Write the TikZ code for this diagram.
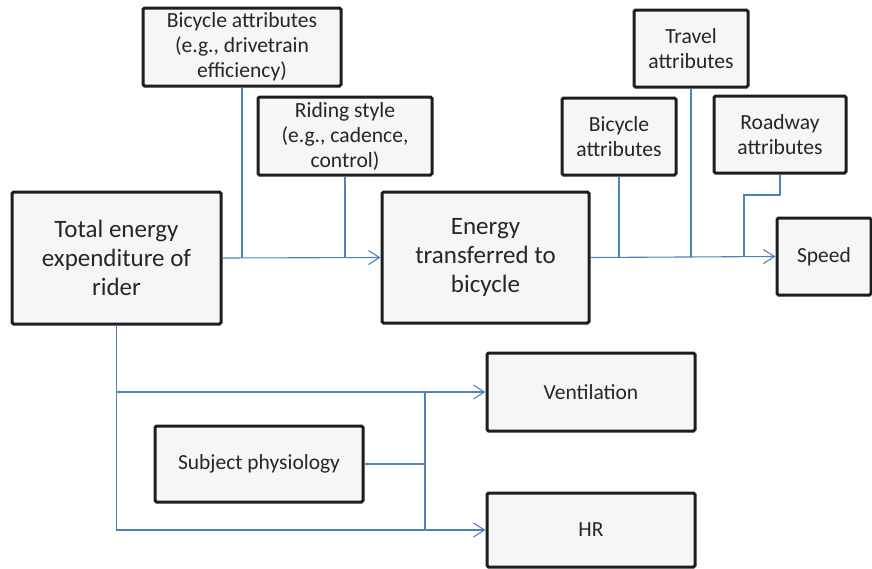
\documentclass[tikz,border=0pt]{standalone}
\usepackage{fontspec}
\setmainfont{Carlito}
\usetikzlibrary{arrows.meta}
\definecolor{boxfill}{HTML}{F6F6F6}
\definecolor{boxline}{HTML}{1E1E1E}
\definecolor{conn}{HTML}{4F81BD}
\tikzset{
  box/.style={draw=boxline, line width=3pt, fill=boxfill, rounded corners=1.5pt,
    align=center, inner sep=0pt, text=black!85},
  smallfont/.style={font=\fontsize{21.6}{25}\selectfont},
  midfont/.style={font=\fontsize{21.5}{26}\selectfont},
  bigfont/.style={font=\fontsize{25}{29}\selectfont},
  conline/.style={draw=conn, line width=1.1pt},
  arr/.style={conline, -{Straight Barb[length=11pt,width=14pt,line width=1.1pt]}}
}
\begin{document}
\begin{tikzpicture}[x=1pt,y=-1pt]
\useasboundingbox (0,0) rectangle (872,568);
% nodes: center (x,y), width, height
\node[box,bigfont,minimum width=209pt,minimum height=132pt] (total) at (116.5,258) {Total energy\\expenditure of\\rider};
\node[box,bigfont,minimum width=207pt,minimum height=131pt] (energy) at (485.5,257.5) {Energy\\transferred to\\bicycle};
\node[box,smallfont,minimum width=198pt,minimum height=78pt] (ba1) at (242,47) {Bicycle attributes\\(e.g., drivetrain\\efficiency)};
\node[box,smallfont,minimum width=174pt,minimum height=78pt] (rs) at (345,136) {Riding style\\(e.g., cadence,\\control)};
\node[box,smallfont,minimum width=114pt,minimum height=77pt] (ba2) at (619,136.5) {Bicycle\\attributes};
\node[box,smallfont,minimum width=114pt,minimum height=77pt] (ta) at (691,48.5) {Travel\\attributes};
\node[box,smallfont,minimum width=132pt,minimum height=77pt] (ra) at (780,134.5) {Roadway\\attributes};
\node[box,midfont,minimum width=94pt,minimum height=77pt] (speed) at (824,256.5) {Speed};
\node[box,midfont,minimum width=208pt,minimum height=78pt] (vent) at (591,392) {Ventilation};
\node[box,midfont,minimum width=208pt,minimum height=74pt] (hr) at (591,530) {HR};
\node[box,midfont,minimum width=208pt,minimum height=76pt] (sp) at (259,464) {Subject physiology};
% coordinates
\coordinate (j) at (425,464);
\coordinate (rbend) at (744,195);
% connectors
\draw[arr] (total.east) -- (energy.west);
\draw[conline] (ba1.south) -- (ba1.south |- total.east);
\draw[conline] (rs.south) -- (rs.south |- total.east);
\draw[arr] (energy.east) -- (speed.west);
\draw[conline] (ba2.south) -- (ba2.south |- speed.west);
\draw[conline] (ta.south) -- (ta.south |- speed.west);
\draw[conline] (ra.south) |- (rbend) -- (rbend |- speed.west);
\draw[arr] (total.south) |- (hr.west);
\draw[arr] (total.south |- vent.west) -- (vent.west);
\draw[conline] (sp.east) -- (j);
\draw[conline] (j |- vent.west) -- (j |- hr.west);
\end{tikzpicture}
\end{document}
